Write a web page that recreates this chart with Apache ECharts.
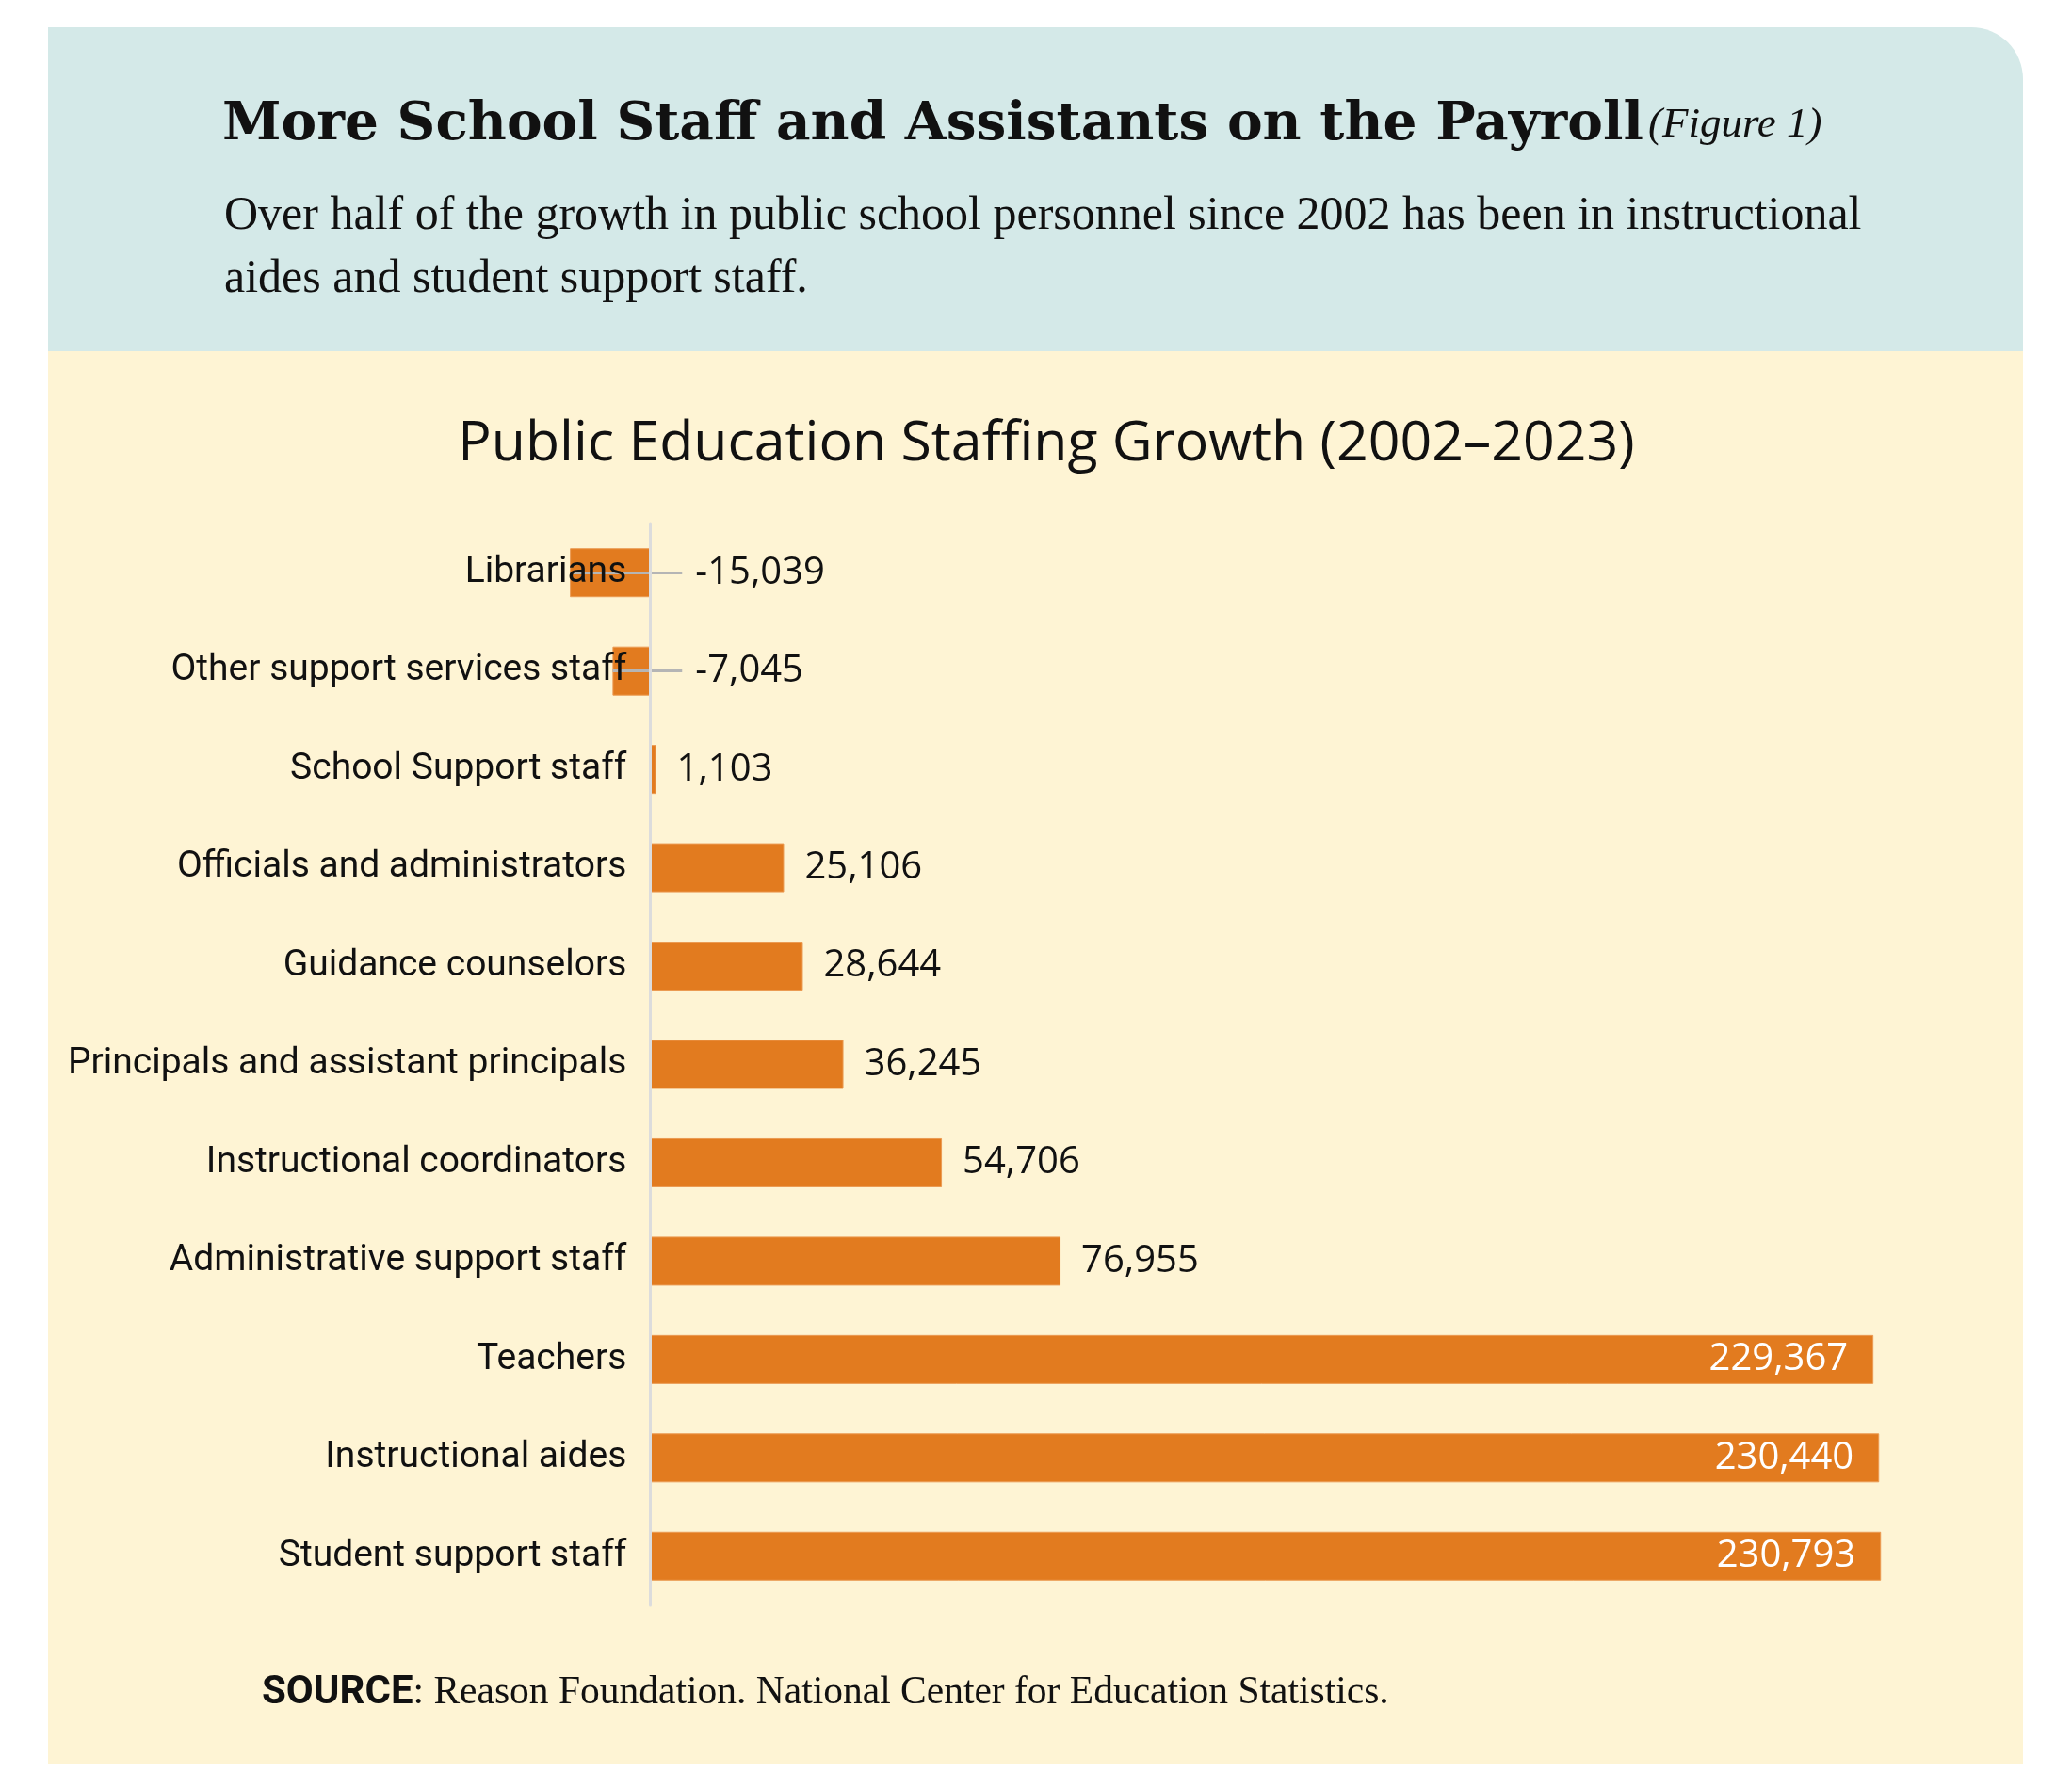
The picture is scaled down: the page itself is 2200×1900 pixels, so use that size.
<!DOCTYPE html>
<html lang="en">
  <head>
    <meta charset="UTF-8" />
    <title>Public Education Staffing Growth</title>
    <script src="https://cdn.jsdelivr.net/npm/echarts@6/dist/echarts.min.js"></script>
    <style>
      html, body { margin: 0; padding: 0; background: #fff; }
      #chart { width: 2200px; height: 1900px; }
    </style>
  </head>
  <body>
    <div id="chart"></div>
    <script>
      // data (top row first)
      var categories = [
        "Librarians",
        "Other support services staff",
        "School Support staff",
        "Officials and administrators",
        "Guidance counselors",
        "Principals and assistant principals",
        "Instructional coordinators",
        "Administrative support staff",
        "Teachers",
        "Instructional aides",
        "Student support staff"
      ];
      var growth = [-15039, -7045, 1103, 25106, 28644, 36245, 54706, 76955, 229367, 230440, 230793];

      var orange = "#e27b1f";
      var leaderEnd = 6000; // where the grey leader of a negative bar stops

      // x range and grid
      var xMin = -100000, xMax = 250000;
      var gridLeft = 124, gridRight = 94;
      // category labels sit next to the zero line, not the grid edge
      var zeroPx = gridLeft + (0 - xMin) / (xMax - xMin) * (2200 - gridLeft - gridRight);
      var labelGap = 25;

      function fmt(v) {
        return v.toLocaleString("en-US");
      }

      // bars: big ones get their label inside in white, negatives get pushed out right
      var barData = growth.map(function (v) {
        var item = { value: v };
        if (v > 200000) {
          item.label = { position: "insideRight", color: "#fff", distance: 27 };
        } else if (v < 0) {
          item.label = { position: "right", distance: 48 };
        }
        return item;
      });

      // leader lines for the negative bars
      var leaders = [];
      growth.forEach(function (v, i) {
        if (v < 0) {
          leaders.push([{ coord: [v, categories[i]] }, { coord: [leaderEnd, categories[i]] }]);
        }
      });

      var chart = echarts.init(document.getElementById("chart"));
      var option = {
        animation: false,
        backgroundColor: "#ffffff",
        graphic: [
          {
            type: "rect",
            z: -10,
            silent: true,
            shape: { x: 51, y: 29, width: 2097, height: 346, r: [0, 55, 0, 0] },
            style: { fill: "#d4e9e8" }
          },
          {
            type: "rect",
            z: -10,
            silent: true,
            shape: { x: 51, y: 373, width: 2097, height: 1500 },
            style: { fill: "#fef4d4" }
          }
        ],
        title: [
          {
            left: 231,
            top: 98,
            text: "{a|More School Staff and Assistants on the Payroll} {b|(Figure 1)}",
            textStyle: {
              fontWeight: "normal",
              rich: {
                a: { fontFamily: "DejaVu Serif", fontWeight: "bold", fontSize: 56.5, color: "#111", lineHeight: 60 },
                b: { fontFamily: "Liberation Serif", fontStyle: "italic", fontWeight: "normal", fontSize: 45, color: "#111", lineHeight: 60 }
              }
            }
          },
          {
            left: 233,
            top: 191,
            text: "Over half of the growth in public school personnel since 2002 has been in instructional\naides and student support staff.",
            textStyle: { fontFamily: "Liberation Serif", fontWeight: "normal", fontSize: 50, lineHeight: 67, color: "#111" }
          },
          {
            left: 1106,
            textAlign: "center",
            top: 438,
            text: "Public Education Staffing Growth (2002\u20132023)",
            textStyle: { fontFamily: "Open Sans", fontWeight: "normal", fontSize: 59, lineHeight: 59, color: "#111" }
          },
          {
            left: 273,
            top: 1770,
            text: "{s|SOURCE}{t|: Reason Foundation. National Center for Education Statistics.}",
            textStyle: {
              fontWeight: "normal",
              rich: {
                s: { fontFamily: "Roboto", fontWeight: "bold", fontSize: 42, color: "#111", lineHeight: 46 },
                t: { fontFamily: "Liberation Serif", fontWeight: "normal", fontSize: 41.5, color: "#111", lineHeight: 46 }
              }
            }
          }
        ],
        grid: { left: gridLeft, right: gridRight, top: 556, bottom: 195, containLabel: false, outerBoundsMode: "none" },
        xAxis: {
          type: "value",
          min: xMin,
          max: xMax,
          show: false,
          splitLine: { show: false }
        },
        yAxis: {
          type: "category",
          inverse: true,
          data: categories,
          z: 10,
          axisLine: { onZero: true, lineStyle: { color: "#dcdcdc", width: 3 } },
          axisTick: { show: false },
          axisLabel: {
            margin: labelGap - (zeroPx - gridLeft),
            fontFamily: "Roboto",
            fontSize: 39,
            color: "#111"
          }
        },
        series: [
          {
            type: "bar",
            data: barData,
            barWidth: 52,
            itemStyle: { color: orange, borderColor: "#eb9a52", borderWidth: 1 },
            label: {
              show: true,
              position: "right",
              distance: 22,
              fontFamily: "Open Sans",
              fontSize: 40,
              color: "#111",
              formatter: function (p) { return fmt(p.value); }
            },
            markLine: {
              silent: true,
              symbol: "none",
              label: { show: false },
              lineStyle: { color: "#b5b5b5", width: 3, type: "solid" },
              data: leaders
            }
          }
        ]
      };
      chart.setOption(option);
    </script>
  </body>
</html>
